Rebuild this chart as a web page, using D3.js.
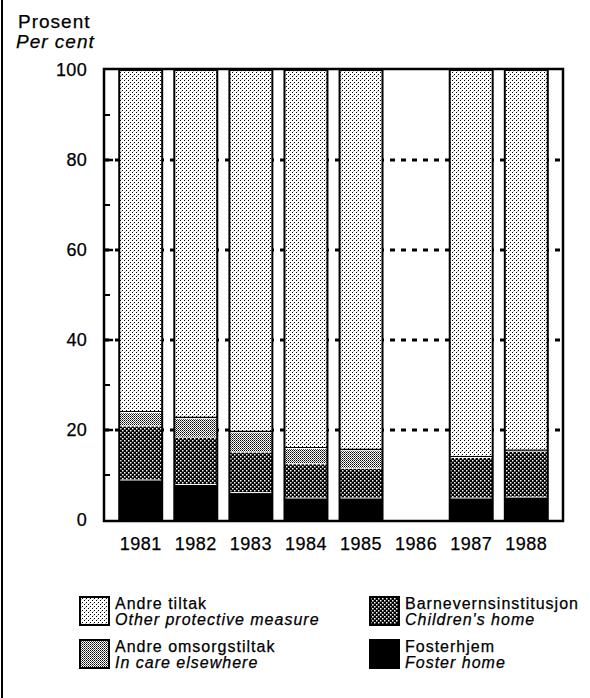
<!DOCTYPE html>
<html><head><meta charset="utf-8">
<script src="https://cdn.jsdelivr.net/npm/d3@7"></script>
<style>body{margin:0;background:#fff}svg{display:block}text{font-family:"Liberation Sans",Arial,sans-serif;fill:#000;stroke:#000;stroke-width:0.25px}</style>
</head><body>
<script>
const years = ["1981","1982","1983","1984","1985","1986","1987","1988"];
const fosterhjem = [9, 8, 6.2, 5, 5, null, 5, 5.2];
const barnevern = [12, 10.5, 9, 7.6, 6.6, null, 9, 10.2];
const andreOmsorg = [3, 4.2, 4.4, 3.4, 4, null, 0, 0];
const yTicks = [0, 20, 40, 60, 80, 100];
const minorTicks = [10, 30, 50, 70, 90];
const seriesKeys = ["foster", "barn", "omsorg", "andre"];
const legendItems = [
  {key: "andre", no: "Andre tiltak", en: "Other protective measure"},
  {key: "barn", no: "Barnevernsinstitusjon", en: "Children's home"},
  {key: "omsorg", no: "Andre omsorgstiltak", en: "In care elsewhere"},
  {key: "foster", no: "Fosterhjem", en: "Foster home"}
];

const W = 590, H = 698;
const svg = d3.select("body").append("svg").attr("width", W).attr("height", H);
const defs = svg.append("defs");

function pat(id, size, bg, dots) {
  const p = defs.append("pattern").attr("id", id).attr("patternUnits", "userSpaceOnUse")
    .attr("width", size).attr("height", size);
  p.append("rect").attr("width", size).attr("height", size).attr("fill", bg);
  dots.forEach(d => p.append("rect").attr("x", d[0]).attr("y", d[1]).attr("width", d[2]).attr("height", d[2]).attr("fill", d[3]));
}
pat("pAndre", 4, "#fff", [[0,0,1,"#000"],[2,2,1,"#000"],[1,3,1,"#bbb"]]);
pat("pOmsorg", 2, "#fff", [[0,0,1,"#000"],[1,1,1,"#555"]]);
pat("pBarn", 4, "#000", [[0,0,1.5,"#fff"],[2,2,1.5,"#fff"]]);
const fills = {andre: "url(#pAndre)", omsorg: "url(#pOmsorg)", barn: "url(#pBarn)", foster: "#000"};

const m = {l: 104, r: 563, t: 69, b: 521};
const x = d3.scaleBand().domain(years).range([m.l + 2, m.r - 2]).paddingInner(0.22).paddingOuter(0.24);
const y = d3.scaleLinear().domain([0, 100]).range([520, 70]);

svg.append("line").attr("x1", 2).attr("x2", 2).attr("y1", 0).attr("y2", H).attr("stroke", "#000").attr("stroke-width", 2);

svg.append("text").attr("x", 18).attr("y", 28).attr("font-size", 19).attr("letter-spacing", 1).text("Prosent");
svg.append("text").attr("x", 16).attr("y", 48).attr("font-size", 19).attr("letter-spacing", 1).attr("font-style", "italic").text("Per cent");

const g = svg.append("g");
g.selectAll(".grid").data(yTicks.filter(d => d > 0 && d < 100)).join("line")
  .attr("x1", m.l).attr("x2", m.r).attr("y1", d => y(d)).attr("y2", d => y(d))
  .attr("stroke", "#000").attr("stroke-width", 3).attr("stroke-dasharray", "5,6");
g.selectAll(".minor").data(minorTicks).join("line")
  .attr("x1", m.l).attr("x2", m.l + 6).attr("y1", d => y(d)).attr("y2", d => y(d))
  .attr("stroke", "#000").attr("stroke-width", 2);
g.selectAll(".major").data(yTicks.filter(d => d > 0 && d < 100)).join("line")
  .attr("x1", m.l).attr("x2", m.l + 9).attr("y1", d => y(d)).attr("y2", d => y(d))
  .attr("stroke", "#000").attr("stroke-width", 2.5);

const rows = years.map((yr, i) => ({
  year: yr,
  foster: fosterhjem[i], barn: barnevern[i], omsorg: andreOmsorg[i],
  andre: fosterhjem[i] == null ? null : 100 - fosterhjem[i] - barnevern[i] - andreOmsorg[i]
})).filter(d => d.foster != null);
const stack = d3.stack().keys(seriesKeys)(rows);

const bars = svg.append("g");
stack.forEach(layer => {
  bars.selectAll(null).data(layer.filter(d => d[1] - d[0] > 0)).join("rect")
    .attr("x", d => x(d.data.year)).attr("width", x.bandwidth())
    .attr("y", d => y(d[1]) + (layer.key === "andre" ? 0 : 1))
    .attr("height", d => Math.max(0, y(d[0]) - y(d[1]) - (layer.key === "andre" || layer.key === "foster" ? 0 : 1)))
    .attr("fill", fills[layer.key]);
  if (layer.key === "andre") {
    bars.selectAll(null).data(layer).join("line")
      .attr("x1", d => x(d.data.year)).attr("x2", d => x(d.data.year) + x.bandwidth())
      .attr("y1", d => y(d[0]) - 0.5).attr("y2", d => y(d[0]) - 0.5)
      .attr("stroke", "#000").attr("stroke-width", 1.2);
  }
});
bars.selectAll(".outline").data(rows).join("rect")
  .attr("x", d => x(d.year)).attr("width", x.bandwidth())
  .attr("y", y(100)).attr("height", y(0) - y(100))
  .attr("fill", "none").attr("stroke", "#000").attr("stroke-width", 2);

svg.append("rect").attr("x", m.l).attr("y", m.t).attr("width", m.r - m.l).attr("height", m.b - m.t)
  .attr("fill", "none").attr("stroke", "#000").attr("stroke-width", 2.5);

svg.selectAll(".ylab").data(yTicks).join("text")
  .attr("x", 87).attr("y", d => y(d) + 6).attr("text-anchor", "end").attr("font-size", 18).attr("letter-spacing", 0.3).text(d => d);
svg.selectAll(".xlab").data(years).join("text")
  .attr("x", d => x(d) + x.bandwidth() / 2).attr("y", 550).attr("text-anchor", "middle").attr("font-size", 18).attr("letter-spacing", 0.5).text(d => d);

const lx = [80, 370], ly = [597, 640];
legendItems.forEach((it, i) => {
  const gx = lx[i % 2], gy = ly[Math.floor(i / 2)];
  svg.append("rect").attr("x", gx).attr("y", gy).attr("width", 29).attr("height", 28)
    .attr("fill", fills[it.key]).attr("stroke", "#000").attr("stroke-width", 2);
  svg.append("text").attr("x", gx + 35).attr("y", gy + 12).attr("font-size", 16).attr("letter-spacing", 1).text(it.no);
  svg.append("text").attr("x", gx + 35).attr("y", gy + 28).attr("font-size", 16).attr("letter-spacing", 1).attr("font-style", "italic").text(it.en);
});
</script>
</body></html>
